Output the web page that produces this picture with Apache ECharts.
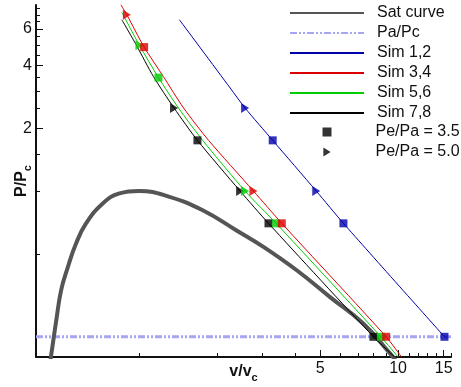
<!DOCTYPE html>
<html><head><meta charset="utf-8">
<script src="https://cdn.jsdelivr.net/npm/echarts@6/dist/echarts.min.js"></script>
<style>html,body{margin:0;padding:0;background:#fff}#c{width:461px;height:387px}</style>
</head><body><div id="c"></div>
<script>
const FONT = '"Liberation Sans", Arial, Helvetica, sans-serif';

// axis ranges and ticks
const xRange = [0.4, 16];
const yRange = [0.16, 7.8];
const xMajorTicks = [5, 10, 15];
const xMinorTicks = [1, 2, 3, 4, 6, 7, 8, 9, 11, 12, 13, 14, 16];
const yMajorTicks = [2, 4, 6];
const yMinorTicks = [0.5, 1, 1.5, 2.5, 3, 3.5, 4.5, 5, 5.5, 6.5, 7, 7.5];

// saturation curve
const satV = [0.455, 0.479, 0.5, 0.531, 0.571, 0.624, 0.724, 0.84, 1.0, 1.31, 1.76, 2.37, 3.02, 4.06, 5.46, 7.35, 9.32, 9.75];
const satP = [0.155, 0.24, 0.334, 0.432, 0.56, 0.699, 0.872, 0.974, 1.0, 0.938, 0.809, 0.649, 0.54, 0.417, 0.31, 0.231, 0.166, 0.155];

// ambient pressure level
const paV = [0.4, 16];
const paP = [0.2, 0.2];

// simulation paths
const sim12V = [1.431, 2.247, 2.566, 3.28, 4.83, 6.15, 15.1];
const sim12P = [6.63, 3.12, 2.5, 1.75, 1.0, 0.7, 0.2];
const sim34V = [0.85, 0.897, 1.046, 1.241, 1.486, 1.855, 2.764, 3.556, 8.99, 10.3];
const sim34P = [7.83, 7.0, 4.9, 3.54, 2.5, 1.75, 1.0, 0.7, 0.2, 0.16];
const sim56V = [0.858, 1.003, 1.188, 1.42, 1.76, 2.566, 3.381, 8.58, 10.0];
const sim56P = [7.19, 5.0, 3.5, 2.5, 1.75, 1.0, 0.7, 0.2, 0.16];
const sim78V = [0.858, 0.974, 1.136, 1.365, 1.68, 2.455, 3.159, 8.03, 9.7];
const sim78P = [6.63, 5.03, 3.54, 2.5, 1.75, 1.0, 0.7, 0.2, 0.16];

// markers Pe/Pa = 3.5 (squares)
const sq12V = [3.28, 6.15, 15.1], sq12P = [1.75, 0.7, 0.2];
const sq34V = [1.046, 3.556, 8.99], sq34P = [4.9, 0.7, 0.2];
const sq56V = [1.188, 3.381, 8.58], sq56P = [3.5, 0.7, 0.2];
const sq78V = [1.68, 3.159, 8.03], sq78P = [1.75, 0.7, 0.2];
// markers Pe/Pa = 5.0 (triangles)
const tr12V = [2.566, 4.83], tr12P = [2.5, 1.0];
const tr34V = [0.897, 2.764], tr34P = [7.0, 1.0];
const tr56V = [1.003, 2.566], tr56P = [5.0, 1.0];
const tr78V = [1.365, 2.455], tr78P = [2.5, 1.0];

const C = { s12: '#0000aa', s34: '#dd0000', s56: '#00cc00', s78: '#000000' };
const zip = (a, b) => a.map((v, i) => [v, b[i]]);
const colored = (a, b, c) => a.map((v, i) => ({ value: [v, b[i]], itemStyle: { color: c } }));

const chart = echarts.init(document.getElementById('c'), null, { renderer: 'canvas' });
const axisLabelStyle = { fontSize: 16, fontFamily: FONT, color: '#111' };
const nameRich = {
  b: { fontSize: 16, fontWeight: 'bold', fontFamily: FONT, color: '#111', lineHeight: 22, verticalAlign: 'middle' },
  s: { fontSize: 11, fontWeight: 'bold', fontFamily: FONT, color: '#111', lineHeight: 22, verticalAlign: 'bottom' }
};
const lineSeries = (name, v, p, color, width, extra) => Object.assign({
  name, type: 'line', data: zip(v, p), symbol: 'none', smooth: 0.25,
  lineStyle: { color, width }, itemStyle: { color }, z: 3
}, extra || {});
const hiddenLine = { show: true, onZero: false, lineStyle: { color: 'rgba(0,0,0,0)', width: 0 } };

chart.setOption({
  animation: false,
  backgroundColor: '#fff',
  grid: { left: 36, right: 10, top: 5, bottom: 30, containLabel: false, outerBoundsMode: 'none' },
  xAxis: [{
    type: 'log', logBase: 10, min: xRange[0], max: xRange[1],
    name: '{b|v/v}{s|c}', nameLocation: 'middle', nameGap: 4, nameMoveOverlap: false,
    nameTextStyle: { rich: nameRich },
    axisLine: { show: true, onZero: false, lineStyle: { color: '#111', width: 2 } },
    axisTick: { show: true, inside: true, length: 7, customValues: xMajorTicks, lineStyle: { color: '#111', width: 1 } },
    axisLabel: { show: true, customValues: xMajorTicks, margin: 4, ...axisLabelStyle },
    splitLine: { show: false }, minorTick: { show: false }
  }, {
    type: 'log', logBase: 10, min: xRange[0], max: xRange[1], position: 'bottom', offset: 0,
    axisLine: hiddenLine,
    axisTick: { show: true, inside: true, length: 4, customValues: xMinorTicks, lineStyle: { color: '#111', width: 1 } },
    axisLabel: { show: false, customValues: xMinorTicks }, splitLine: { show: false }
  }],
  yAxis: [{
    type: 'log', logBase: 10, min: yRange[0], max: yRange[1],
    name: '{b|P/P}{s|c}', nameLocation: 'middle', nameGap: 3, nameRotate: 90, nameMoveOverlap: false,
    nameTextStyle: { rich: nameRich },
    axisLine: { show: true, onZero: false, lineStyle: { color: '#111', width: 2 } },
    axisTick: { show: true, inside: true, length: 7, customValues: yMajorTicks, lineStyle: { color: '#111', width: 1 } },
    axisLabel: { show: true, customValues: yMajorTicks, margin: 4, ...axisLabelStyle },
    splitLine: { show: false }, minorTick: { show: false }
  }, {
    type: 'log', logBase: 10, min: yRange[0], max: yRange[1], position: 'left', offset: 0,
    axisLine: hiddenLine,
    axisTick: { show: true, inside: true, length: 4, customValues: yMinorTicks, lineStyle: { color: '#111', width: 1 } },
    axisLabel: { show: false, customValues: yMinorTicks }, splitLine: { show: false }
  }],
  legend: [{
    orient: 'vertical', left: 289, top: 5, padding: 0, itemWidth: 74, itemHeight: 14, itemGap: 4,
    selectedMode: false,
    itemStyle: { opacity: 0 },
    textStyle: { fontSize: 16, fontFamily: FONT, color: '#111', lineHeight: 14, padding: [0, 0, 0, 8] },
    data: ['Sat curve', 'Pa/Pc', 'Sim 1,2', 'Sim 3,4', 'Sim 5,6', 'Sim 7,8']
  }, {
    orient: 'vertical', left: 322.5, top: 124, padding: 0, itemWidth: 9, itemHeight: 9, itemGap: 4,
    selectedMode: false,
    textStyle: { fontSize: 16, fontFamily: FONT, color: '#111', lineHeight: 14, padding: [0, 0, 0, 39] },
    data: ['Pe/Pa = 3.5', { name: 'Pe/Pa = 5.0', icon: 'path://M0,0L8,5L0,10Z' }]
  }],
  series: [
    lineSeries('Pa/Pc', paV, paP, '#a6a6f2', 3, { smooth: false, z: 1, lineStyle: { color: '#a6a6f2', width: 3, type: [7, 2, 2, 2, 2, 2] } }),
    lineSeries('Sat curve', satV, satP, '#555555', 4, { z: 2, smooth: 0.45 }),
    lineSeries('Sim 1,2', sim12V, sim12P, C.s12, 1),
    lineSeries('Sim 7,8', sim78V, sim78P, C.s78, 1),
    lineSeries('Sim 5,6', sim56V, sim56P, C.s56, 1),
    lineSeries('Sim 3,4', sim34V, sim34P, C.s34, 1),
    {
      name: 'Pe/Pa = 5.0', type: 'scatter', symbol: 'triangle', symbolRotate: -90, symbolSize: [10, 8], z: 5,
      itemStyle: { color: '#000' },
      data: [].concat(colored(tr78V, tr78P, C.s78), colored(tr56V, tr56P, C.s56), colored(tr34V, tr34P, C.s34), colored(tr12V, tr12P, C.s12))
    },
    {
      name: 'Pe/Pa = 3.5', type: 'scatter', symbol: 'rect', symbolSize: 8, z: 6,
      itemStyle: { color: '#000' },
      data: [].concat(colored(sq78V, sq78P, C.s78), colored(sq56V, sq56P, C.s56), colored(sq34V, sq34P, C.s34), colored(sq12V, sq12P, C.s12))
    }
  ]
});
</script></body></html>
